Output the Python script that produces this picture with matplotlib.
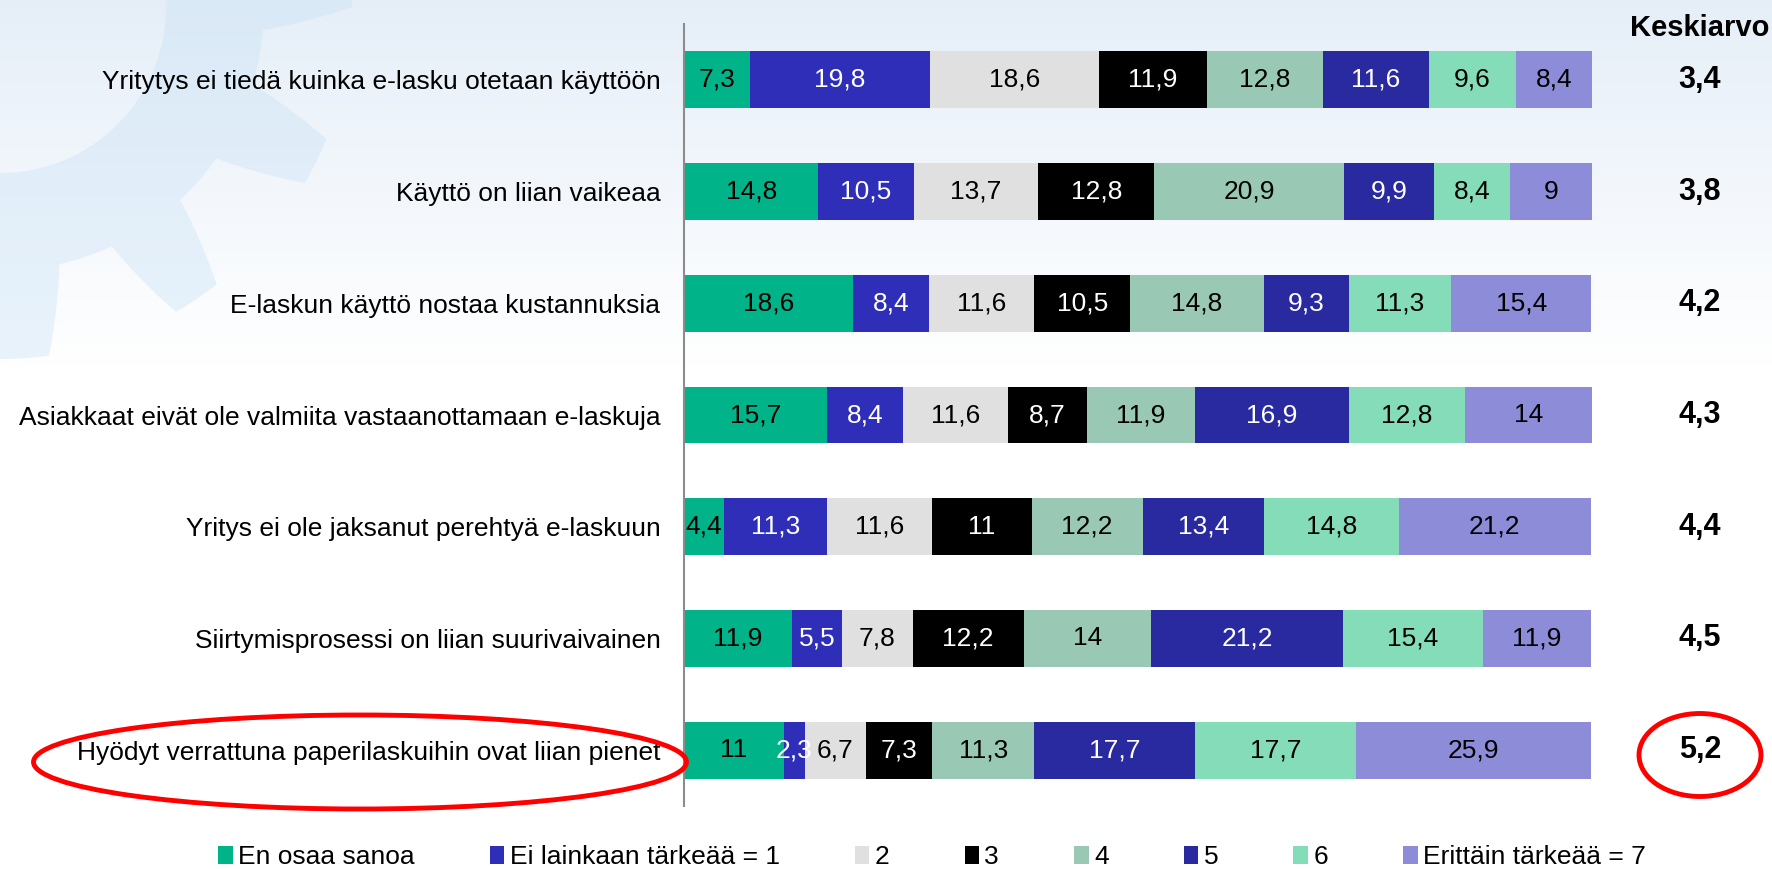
import numpy as np
import matplotlib
matplotlib.use("Agg")
from matplotlib import pyplot as plt
from matplotlib.patches import Patch, Ellipse, PathPatch
from matplotlib.path import Path
from matplotlib.transforms import blended_transform_factory

plt.rcParams['font.family'] = ['Liberation Sans', 'DejaVu Sans']

# data
categories = [
    "Yritytys ei tiedä kuinka e-lasku otetaan käyttöön",
    "Käyttö on liian vaikeaa",
    "E-laskun käyttö nostaa kustannuksia",
    "Asiakkaat eivät ole valmiita vastaanottamaan e-laskuja",
    "Yritys ei ole jaksanut perehtyä e-laskuun",
    "Siirtymisprosessi on liian suurivaivainen",
    "Hyödyt verrattuna paperilaskuihin ovat liian pienet",
]
series_names = ["En osaa sanoa", "Ei lainkaan tärkeää = 1", "2", "3", "4", "5", "6",
                "Erittäin tärkeää = 7"]
en_osaa = [7.3, 14.8, 18.6, 15.7, 4.4, 11.9, 11]
s1 = [19.8, 10.5, 8.4, 8.4, 11.3, 5.5, 2.3]
s2 = [18.6, 13.7, 11.6, 11.6, 11.6, 7.8, 6.7]
s3 = [11.9, 12.8, 10.5, 8.7, 11, 12.2, 7.3]
s4 = [12.8, 20.9, 14.8, 11.9, 12.2, 14, 11.3]
s5 = [11.6, 9.9, 9.3, 16.9, 13.4, 21.2, 17.7]
s6 = [9.6, 8.4, 11.3, 12.8, 14.8, 15.4, 17.7]
s7 = [8.4, 9, 15.4, 14, 21.2, 11.9, 25.9]
keskiarvo = [3.4, 3.8, 4.2, 4.3, 4.4, 4.5, 5.2]

colors = ["#00B388", "#2E2EB8", "#E0E0E0", "#000000", "#99C9B4", "#2A2AA0", "#84DCB8", "#8C8CD8"]
text_colors = ["black", "white", "black", "white", "black", "white", "black", "black"]

W, H = 1772, 869
fig = plt.figure(figsize=(W / 100, H / 100), dpi=100)

# background: soft blue gradient + faint gear in the corner
bg = fig.add_axes([0, 0, 1, 1], zorder=-10)
bg.set_xlim(0, W)
bg.set_ylim(H, 0)
bg.axis("off")
grad = np.clip(np.linspace(0, 1, 200)[:, None] / 0.42, 0, 1)
top = np.array([0.90, 0.935, 0.972])
img = top * (1 - grad[..., None]) + grad[..., None]
bg.imshow(np.repeat(img, 2, axis=1), extent=[0, W, H, 0], aspect="auto")

# gear: 12 teeth, centre near the top-left corner
gx, gy = 0, 7
r_hole, r_root, r_tip = 166, 264, 352
deg = np.linspace(0, 360, 3600)
ph = (deg - 26 + 15) % 30 / 30
rad = np.interp(ph, [0, 0.2, 0.367, 0.633, 0.8, 1.0], [r_root, r_root, r_tip, r_tip, r_root, r_root])
ang = np.radians(deg)
outer = np.column_stack([gx + rad * np.cos(ang), gy + rad * np.sin(ang)])
inner = np.column_stack([gx + r_hole * np.cos(ang[::-1]), gy + r_hole * np.sin(ang[::-1])])
verts = np.vstack([outer, inner])
codes = np.full(len(verts), Path.LINETO)
codes[0] = Path.MOVETO
codes[len(outer)] = Path.MOVETO
bg.add_patch(PathPatch(Path(verts, codes), facecolor="#C9E2F6", edgecolor="none", alpha=0.4))

# main chart
ax = fig.add_axes([684 / W, 1 - 806 / H, (1592 - 684) / W, (806 - 24) / H])
ax.patch.set_alpha(0)
y = np.arange(len(categories))
data = [en_osaa, s1, s2, s3, s4, s5, s6, s7]
left = np.zeros(len(categories))
for vals, name, col, tcol in zip(data, series_names, colors, text_colors):
    vals = np.array(vals, dtype=float)
    bars = ax.barh(y, vals, left=left, height=0.51, color=col, label=name, linewidth=0)
    labels = [f"{v:g}".replace(".", ",") for v in vals]
    ax.bar_label(bars, labels=labels, label_type="center", color=tcol, fontsize=19)
    left += vals

ax.set_xlim(0, 100)
ax.set_ylim(len(categories) - 0.5, -0.5)
ax.set_yticks(y)
ax.set_yticklabels(categories, fontsize=19)
ax.tick_params(axis="y", length=0, pad=17)
ax.set_xticks([])
for s in ["top", "right", "bottom"]:
    ax.spines[s].set_visible(False)
ax.spines["left"].set_color("#8C8C8C")
ax.spines["left"].set_linewidth(1.5)

# averages column
tr = blended_transform_factory(fig.transFigure, ax.transData)
for yi, m in zip(y, keskiarvo):
    ax.text(1700 / W, yi, f"{m:g}".replace(".", ","), transform=tr, ha="center", va="center",
            fontsize=22, fontweight="bold")
fig.text(1700 / W, 1 - 28 / H, "Keskiarvo", ha="center", va="center", fontsize=21, fontweight="bold")

# legend
handles = [Patch(facecolor=c, edgecolor="none") for c in colors]
fig.legend(handles, series_names, loc="center", bbox_to_anchor=(932 / W, 1 - 857 / H), ncol=8,
           frameon=False, fontsize=19, handlelength=0.55, handleheight=0.7, handletextpad=0.2,
           columnspacing=2.85, borderpad=0)

# red highlight ellipses
ov = fig.add_axes([0, 0, 1, 1], zorder=10)
ov.set_xlim(0, W)
ov.set_ylim(H, 0)
ov.axis("off")
ov.patch.set_alpha(0)
ov.add_patch(Ellipse((360, 762), 653, 94, fill=False, edgecolor="#FF0000", linewidth=3.5))
ov.add_patch(Ellipse((1700, 755), 122, 83, fill=False, edgecolor="#FF0000", linewidth=3.5))

fig.savefig("out.png", dpi=100)
